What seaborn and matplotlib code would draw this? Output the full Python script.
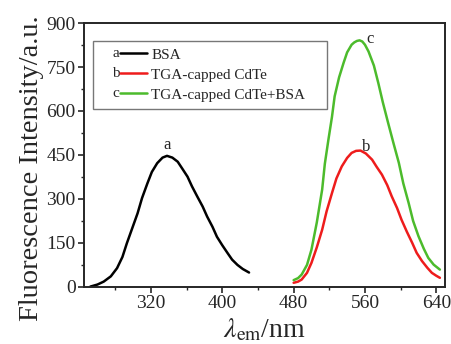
import numpy as np
import pandas as pd
import matplotlib
matplotlib.use("Agg")
import matplotlib.pyplot as plt
from matplotlib.ticker import MultipleLocator
from matplotlib.legend_handler import HandlerBase
from matplotlib.lines import Line2D
from matplotlib.text import Text
import seaborn as sns

# values
bsa_nm = [252, 260, 267, 275, 282, 288, 293, 299, 305, 310, 316, 321, 327, 333, 338, 344, 350, 355, 361, 366, 372, 378, 383, 389, 394, 400, 406, 411, 417, 423, 430]
bsa_int = [1, 8, 18, 36, 64, 102, 149, 200, 251, 303, 353, 392, 422, 441, 447, 441, 427, 404, 376, 343, 308, 274, 240, 205, 171, 142, 115, 93, 75, 61, 49]

cdte_nm = [480, 485, 489, 495, 500, 506, 512, 517, 523, 528, 534, 540, 545, 550, 555, 561, 568, 573, 579, 585, 590, 596, 601, 607, 613, 618, 624, 630, 635, 640, 644]
cdte_int = [14, 18, 25, 48, 82, 135, 195, 258, 320, 370, 411, 440, 457, 464, 465, 455, 434, 410, 383, 347, 309, 269, 229, 188, 150, 116, 88, 65, 48, 38, 31]

mix_nm = [480, 485, 489, 495, 500, 506, 512, 515, 519, 523, 526, 531, 536, 540, 545, 548, 551, 554, 557, 560, 564, 570, 575, 580, 586, 592, 598, 603, 609, 614, 620, 626, 631, 637, 644]
mix_int = [23, 30, 42, 75, 127, 220, 332, 420, 502, 580, 650, 715, 764, 800, 826, 834, 839, 841, 837, 826, 803, 755, 695, 630, 559, 490, 423, 353, 286, 225, 173, 130, 99, 76, 59]

labels = ["BSA", "TGA-capped CdTe", "TGA-capped CdTe+BSA"]
letters = ["a", "b", "c"]
colors = ["black", "#ee1c1c", "#4cbb2c"]


class LetterLine(HandlerBase):
    # legend key drawn as "a——" : letter then a short line
    def __init__(self, letter):
        super().__init__()
        self.letter = letter

    def create_artists(self, legend, orig_handle, xdescent, ydescent,
                       width, height, fontsize, trans):
        y = height / 2 - ydescent
        x0 = -xdescent + 0.8 * fontsize
        t = Text(x0, y, self.letter, fontsize=fontsize, va="center",
                 ha="left", transform=trans, family=plt.rcParams["font.family"])
        ln = Line2D([x0 + 0.5 * fontsize, -xdescent + width - 0.1 * fontsize], [y, y],
                    color=orig_handle.get_color(), lw=orig_handle.get_linewidth(),
                    transform=trans)
        return [t, ln]


sns.set_style("ticks")
plt.rcParams["font.family"] = ["Liberation Serif", "DejaVu Serif"]
plt.rcParams["mathtext.fontset"] = "stix"

fig = plt.figure(figsize=(4.52, 3.44), dpi=100)
ax = fig.add_axes([0.186, 0.166, 0.799, 0.767])

series = [(bsa_nm, bsa_int), (cdte_nm, cdte_int), (mix_nm, mix_int)]
for (x, y), lab, c in zip(series, labels, colors):
    df = pd.DataFrame({"nm": x, "I": y})
    sns.lineplot(data=df, x="nm", y="I", ax=ax, color=c, lw=1.8, sort=False, legend=False)

ax.set_xlim(245, 650)
ax.set_ylim(0, 900)
ax.xaxis.set_minor_locator(MultipleLocator(40))
ax.yaxis.set_major_locator(MultipleLocator(150))
ax.yaxis.set_minor_locator(MultipleLocator(75))
ax.set_xticks([320, 400, 480, 560, 640])
ax.tick_params(which="major", direction="out", length=4, width=1.2, labelsize=14, pad=2)
ax.tick_params(which="minor", direction="out", length=2.5, width=1.0)
for s in ax.spines.values():
    s.set_linewidth(1.4)
    s.set_visible(True)

ax.set_xlabel(r"$\lambda_{\rm em}$/nm", fontsize=20, labelpad=3.5)
ax.set_ylabel("Fluorescence Intensity/a.u.", fontsize=20.5)
ax.yaxis.set_label_coords(-0.111, 0.45)

handles = ax.get_lines()[:3]
leg = ax.legend(handles, labels, loc="upper left", bbox_to_anchor=(0.025, 0.932),
                handler_map={h: LetterLine(l) for h, l in zip(handles, letters)},
                fancybox=False, edgecolor="#777777", framealpha=1, fontsize=11,
                handlelength=3.2, handletextpad=0.15, borderpad=0.45,
                labelspacing=0.42, borderaxespad=0)
leg.get_frame().set_linewidth(1.0)
# pad longest label so the frame reaches the reference width
leg.get_texts()[2].set_text(labels[2] + "    ")

# curve letters
ax.text(338, 484, "a", fontsize=12, ha="center", va="center")
ax.text(561, 477, "b", fontsize=12, ha="center", va="center")
ax.text(566, 845, "c", fontsize=12, ha="center", va="center")

fig.savefig("out.png", dpi=100)
